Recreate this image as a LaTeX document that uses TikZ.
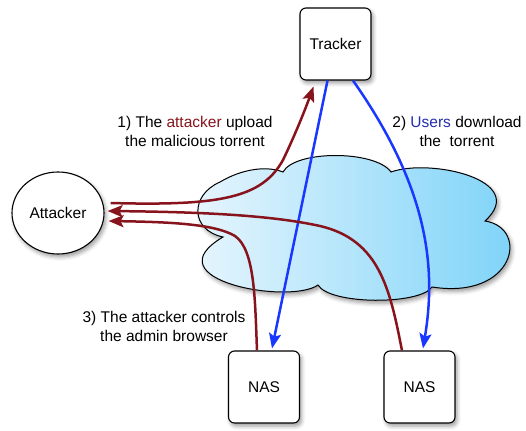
\documentclass[tikz,border=0pt]{standalone}
\usepackage{fontspec}
\setmainfont{Liberation Sans}
\usepackage{tikz}
\usetikzlibrary{shapes.geometric, % ellipse
           arrows.meta,
           shadows.blur,
           calc}
\definecolor{darkred}{RGB}{135,20,28}
\definecolor{userblue}{RGB}{25,55,255}
\definecolor{textblue}{RGB}{35,45,175}
\definecolor{cloudleft}{RGB}{244,250,254}
\definecolor{cloudright}{RGB}{122,210,248}
\begin{document}
\begin{tikzpicture}[x=1pt,y=-1pt,font=\fontsize{15.5}{19}\selectfont,
  soft/.style={blur shadow={shadow xshift=2pt,shadow yshift=-3pt,shadow blur radius=4pt,shadow opacity=40}},
  box/.style={draw,line width=1.1pt,rounded corners=6pt,fill=white,minimum width=71pt,minimum height=72pt,soft},
  redarrow/.style={draw=darkred,line width=2.5pt,-{Stealth[length=15pt,width=12pt,inset=3pt]}},
  bluearrow/.style={draw=userblue,line width=2.5pt,-{Stealth[length=15pt,width=12pt,inset=3pt]}}]
\useasboundingbox(0,0)rectangle(526,430);
% le nuage
\draw[line width=1pt,left color=cloudleft,right color=cloudright,soft]
  (223,237) .. controls (190,230) and (190,195) .. (220,182)
  .. controls (240,170) and (265,165) .. (283,172)
  .. controls (295,150) and (375,150) .. (391,172)
  .. controls (430,158) and (530,180) .. (485,221)
  .. controls (530,228) and (515,300) .. (432,287)
  .. controls (420,305) and (330,305) .. (318,285)
  .. controls (290,305) and (150,280) .. (223,237) -- cycle;
% les noeuds
\node[box](tracker)at(335.5,44){Tracker};
\node[draw,ellipse,line width=1.1pt,fill=white,minimum width=92pt,minimum height=82pt,inner sep=0pt,soft](attacker)at(58,213){Attacker};
\node[box](nas1)at(264,387){NAS};
\node[box](nas2)at(419.5,387){NAS};
% les fleches
\draw[redarrow]([shift={(6,-10)}]attacker.east) .. controls (220,206) and (262,198) .. (283,160)
  .. controls (295,135) and (305,110) .. ([shift={(-22,6)}]tracker.south);
\draw[bluearrow]([xshift=-8pt]tracker.south) -- ([shift={(8,-2)}]nas1.north);
\draw[bluearrow]([xshift=17.5pt]tracker.south) .. controls (430,190) and (436,270) .. ([shift={(3.5,-2)}]nas2.north);
\draw[redarrow]([xshift=-17.5pt]nas2.north) .. controls (390,290) and (380,240) .. (320,226)
  .. controls (270,215) and (200,212) .. ([shift={(3,-2)}]attacker.east);
\draw[redarrow]([xshift=-7pt]nas1.north) .. controls (255,300) and (255,250) .. (235,236)
  .. controls (215,224) and (170,222) .. ([shift={(4,8)}]attacker.east);
% les textes
\node[align=center](upload)at(195,131){1) The \textcolor{darkred}{attacker} upload\\the malicious torrent};
\node[align=center](download)at(457,131){2) \textcolor{textblue}{Users} download\\the\ \ torrent};
\node[align=center](control)at(164,326){3) The attacker controls\\the admin browser};
\end{tikzpicture}
\end{document}
